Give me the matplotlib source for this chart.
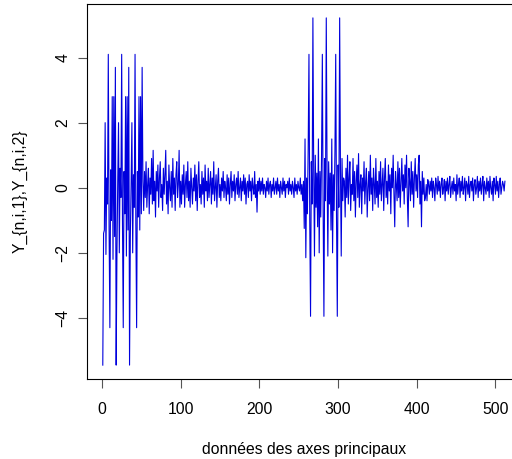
import matplotlib
matplotlib.use("Agg")
import matplotlib.pyplot as plt
import numpy as np

# first half: burst (3 cycles) then decaying noise
burst1 = [-5.45, -1.4, -1.3, 2.0, -2.05, 0.3, -0.5, 4.1, -1.2, -4.3, 0.55, -1.0, 2.8, -2.2, 2.8, -1.5, 3.7,
          -5.45, -2.0, 0.2, 2.0, -2.0, 0.6, -0.3, 4.1, -1.0, -4.3, 0.5, -0.8, 2.8, -2.1, 2.8, -1.3, 3.7,
          -5.45, -1.5, 0.1, 2.0, -2.0, 0.4, -0.6, 4.1, -1.1, -4.3, 0.5, -0.9, 2.8, -1.3, 2.8, -0.8, 3.7]
noise1a = [0.2, -0.7, 0.5, -0.3, 0.8, -0.6, 0.1, 0.6, -0.8, 0.3, -0.2, 0.9, -0.5, 1.15, -0.4, 0.2, -0.9,
           0.5, -0.1, 0.7, -0.6, 0.3, 0.8, -0.3, 0.1, -0.7, 0.6, -0.2, 0.4, 1.15, -0.5, 0.2, -0.8, 0.7,
           0.0, -0.4, 0.5, -0.6, 0.9, -0.2, 0.3, -0.7, 0.4, 0.8, -0.3, 0.1, 1.15, -0.6, 0.2]
noise1b = [-0.5, 0.4, -0.2, 0.7, -0.6, 0.1, 0.5, -0.3, 0.8, -0.4, 0.2, -0.6, 0.6, 0.0, -0.5, 0.3, -0.1,
           0.7, -0.4, 0.4, -0.7, 0.2, 0.8, -0.3, 0.1, -0.5, 0.5, -0.2, 0.3, -0.6, 0.7, -0.1, 0.2, -0.4,
           0.6, -0.3, 0.1, 0.5, -0.5, 0.3, -0.2, 0.8, -0.4, 0.0, 0.4, -0.6, 0.2, 0.6, -0.3, 0.1]
noise1c = [-0.4, 0.3, -0.1, 0.5, -0.3, 0.2, 0.0, -0.4, 0.4, -0.2, 0.3, -0.5, 0.1, 0.5, -0.3, 0.2, -0.1,
           0.4, -0.4, 0.1, 0.3, -0.2, 0.5, -0.3, 0.0, 0.3, -0.4, 0.2, -0.1, 0.4, -0.2, 0.3, -0.5, 0.1,
           0.2, -0.3, 0.4, -0.1, 0.2, -0.4, 0.3, 0.0, -0.2, 0.5, -0.3, 0.1, -0.75, 0.2, -0.1, 0.3]
noise1d = [-0.2, 0.2, -0.1, 0.3, -0.2, 0.1, 0.0, -0.3, 0.2, -0.1, 0.3, -0.2, 0.1, 0.2, -0.3, 0.1, -0.1,
           0.3, -0.2, 0.0, 0.2, -0.2, 0.3, -0.1, 0.1, -0.3, 0.2, 0.0, -0.2, 0.3, -0.1, 0.2, -0.3, 0.1,
           0.0, 0.2, -0.2, 0.3, -0.1, 0.1, -0.2, 0.2, 0.0, -0.3, 0.3, -0.1, 0.1, -0.2, 0.2, 0.0, -0.1,
           0.3, -0.2, 0.1, -0.4, 0.2]

# second half
burst2 = [-1.25, 1.5, -2.15, 0.3, -0.8, 1.2, 4.1, -1.0, -3.95, 0.8, -0.5, 5.22, 0.6, -2.1, 1.0, -0.6, 0.45,
          -1.2, 1.5, -2.0, 0.5, -0.9, 1.0, 4.1, -0.7, -3.95, 0.9, -0.4, 5.22, 0.5, -2.1, 0.8, -0.5, 0.45,
          -1.3, 1.5, -2.0, 0.4, -0.7, 1.1, 4.1, -0.9, -3.95, 0.7, -0.6, 5.22, 0.6, -2.1, 0.9, -0.4, 0.3]
noise2a = [0.2, -0.9, 0.6, -0.3, 1.0, -0.5, 0.3, 0.8, -0.7, 0.1, -0.2, 0.9, -0.4, 0.5, -0.9, 0.2, 0.7,
           -0.3, 1.05, -0.6, 0.1, 0.4, -0.8, 0.3, -0.1, 0.8, -0.5, 0.2, 0.6, -0.9, 0.0, 0.5, -0.4, 1.0,
           -0.2, 0.3, -0.7, 0.6, 0.1, -0.5, 0.9, -0.3, 0.2]
noise2b = [-0.6, 0.5, -0.2, 0.8, -0.4, 0.1, 0.6, -0.7, 0.3, 0.9, -0.3, 0.2, -0.5, 0.7, -0.1, 0.4, -0.8,
           0.6, 0.0, 1.0, -0.2, -1.2, 0.5, 0.1, -0.4, 0.8, -0.3, 0.6, -0.6, 0.2, 0.9, -0.1, 0.4, -0.5,
           0.7, 0.0, 1.0, -0.3, -1.2, 0.6, 0.2, -0.4, 0.8, -0.2, 0.5, -0.6, 0.3, 0.9, -0.1, 0.4, -0.3,
           0.7, 1.0, -0.5, 0.2, -1.2, 0.5, -0.2, 0.3, -0.4]
noise2c = [-0.3, 0.1, -0.4, 0.25, 0.1, -0.2, 0.2, -0.1, 0.3, -0.3, 0.2, 0.0, -0.4, 0.3, 0.1, -0.2, 0.35,
           -0.1, 0.2, -0.3, 0.1, 0.3, -0.2, 0.0, 0.25, -0.4, 0.2, -0.1, 0.3, -0.2, 0.1, 0.35, -0.3, 0.0,
           0.2, -0.2, 0.3, -0.1, 0.1, -0.4, 0.4, -0.2, 0.1, 0.3, -0.3, 0.2, -0.1, 0.35, -0.2, 0.0, 0.3,
           -0.4, 0.2, 0.1, -0.2, 0.35, -0.3, 0.1, 0.2, -0.1, 0.3, -0.4, 0.1, 0.25, -0.2, 0.0, 0.35, -0.3,
           0.2, -0.1, 0.3, -0.2, 0.1, 0.35, -0.4, 0.2, 0.0, -0.2, 0.3, -0.1, 0.2, -0.3, 0.35, 0.0, -0.2,
           0.2, -0.4, 0.3, 0.1, -0.2, 0.35, -0.1, 0.2, -0.3, 0.1, 0.3, -0.2, 0.0, 0.2, 0.1, -0.1, 0.2]

xticks = [0, 100, 200, 300, 400, 500]
yticks = [-4, -2, 0, 2, 4]

plt.rcParams["font.family"] = ["Liberation Sans", "DejaVu Sans"]
plt.rcParams["font.size"] = 11.3

y = np.array(burst1 + noise1a + noise1b + noise1c + noise1d
             + burst2 + noise2a + noise2b + noise2c)
x = np.arange(1, len(y) + 1)

fig = plt.figure(figsize=(5.12, 4.59), dpi=100)
ax = fig.add_axes([86.7 / 512, 1 - 379 / 459, 434.3 / 512, 375 / 459])
ax.plot(x, y, color="#0000DD", linewidth=0.8)

# R-style 4% padding on data range
xr = x.max() - x.min()
yr = y.max() - y.min()
ax.set_xlim(x.min() - 0.04 * xr, x.max() + 0.04 * xr)
ax.set_ylim(y.min() - 0.04 * yr, y.max() + 0.04 * yr)

ax.set_xticks(xticks)
ax.set_yticks(yticks)
ax.tick_params(direction="out", length=6.5, width=0.8, color="#555555")
ax.tick_params(axis="x", pad=10)
ax.tick_params(axis="y", pad=5)
for lab in ax.get_yticklabels():
  lab.set_rotation(90)
  lab.set_va("center")
for s in ax.spines.values():
  s.set_linewidth(0.8)

ax.set_xlabel("données des axes principaux", va="center")
ax.set_ylabel("Y_{n,i,1},Y_{n,i,2}", va="center")
ax.xaxis.set_label_coords(0.5, -0.187)
ax.yaxis.set_label_coords(-0.1536, 0.5)

fig.savefig("out.png", dpi=100)
